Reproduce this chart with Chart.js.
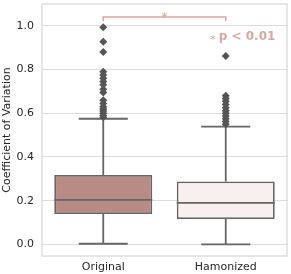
<!DOCTYPE html>
<html>
<head>
<meta charset="utf-8">
<script src="https://cdn.jsdelivr.net/npm/chart.js@4.4.1/dist/chart.umd.min.js"></script>
<style>
  html, body { margin: 0; padding: 0; background: #fff; }
  #wrap { width: 291px; height: 274px; }
</style>
</head>
<body>
<div id="wrap"><canvas id="cv"></canvas></div>
<script>
var groups      = ['Original', 'Hamonized'];
var whiskerLow  = [0.003, 0.0];
var q1          = [0.139, 0.116];
var median      = [0.204, 0.190];
var q3          = [0.318, 0.288];
var whiskerHigh = [0.575, 0.539];
var outliersOriginal  = [0.994, 0.927, 0.880, 0.790, 0.775, 0.760, 0.745, 0.730, 0.710, 0.695,
                         0.660, 0.645, 0.630, 0.620, 0.610, 0.600, 0.590, 0.582];
var outliersHamonized = [0.862, 0.680, 0.668, 0.655, 0.640, 0.625, 0.612, 0.600, 0.588, 0.575, 0.562, 0.550];
var boxColors   = ['#b98b85', '#f9efee'];
var yTicks      = [0.0, 0.2, 0.4, 0.6, 0.8, 1.0];
var bracketY    = 1.041;
var bracketDrop = 1.021;
var starY       = 1.047;
var sigY        = 0.948;
var sigLabel    = 'p < 0.01';

var LINE = '#666666';
var SIG  = '#dba69e';

function pts(name, arr) {
  return arr.map(function (v) { return { x: name, y: v }; });
}

// whiskers, caps, medians, frame and significance bracket
var boxParts = {
  id: 'boxParts',
  beforeDatasetsDraw: function (chart) {
    var a = chart.chartArea, ctx = chart.ctx;
    ctx.save();
    ctx.strokeStyle = '#d6d6d6';
    ctx.lineWidth = 1.2;
    ctx.strokeRect(a.left, a.top, a.right - a.left, a.bottom - a.top);
    ctx.restore();
  },
  afterDatasetDraw: function (chart, args) {
    if (args.meta.type !== 'bar') return;
    var ctx = chart.ctx, ys = chart.scales.y;
    ctx.save();
    ctx.strokeStyle = LINE;
    ctx.lineWidth = 1.8;
    args.meta.data.forEach(function (bar, i) {
      var cx = bar.x, half = bar.width / 2, cap = half / 2;
      var yHi = ys.getPixelForValue(whiskerHigh[i]);
      var yLo = ys.getPixelForValue(whiskerLow[i]);
      var yQ3 = ys.getPixelForValue(q3[i]);
      var yQ1 = ys.getPixelForValue(q1[i]);
      var yMd = ys.getPixelForValue(median[i]);
      ctx.beginPath();
      ctx.moveTo(cx, yQ3); ctx.lineTo(cx, yHi);
      ctx.moveTo(cx, yQ1); ctx.lineTo(cx, yLo);
      ctx.moveTo(cx - cap, yHi); ctx.lineTo(cx + cap, yHi);
      ctx.moveTo(cx - cap, yLo); ctx.lineTo(cx + cap, yLo);
      ctx.moveTo(cx - half, yMd); ctx.lineTo(cx + half, yMd);
      ctx.stroke();
    });
    ctx.restore();
  },
  afterDraw: function (chart) {
    var ctx = chart.ctx, xs = chart.scales.x, ys = chart.scales.y;
    var x0 = xs.getPixelForValue(0), x1 = xs.getPixelForValue(1);
    var yb = ys.getPixelForValue(bracketY), yd = ys.getPixelForValue(bracketDrop);
    ctx.save();
    ctx.strokeStyle = SIG;
    ctx.lineWidth = 1.5;
    ctx.beginPath();
    ctx.moveTo(x0, yd); ctx.lineTo(x0, yb); ctx.lineTo(x1, yb); ctx.lineTo(x1, yd);
    ctx.stroke();
    ctx.fillStyle = SIG;
    ctx.textAlign = 'center';
    ctx.textBaseline = 'middle';
    ctx.font = '13px "DejaVu Sans"';
    ctx.fillText('*', (x0 + x1) / 2, ys.getPixelForValue(starY) + 2);
    var ty = ys.getPixelForValue(sigY);
    ctx.font = 'bold 12px "DejaVu Sans"';
    ctx.textAlign = 'left';
    ctx.fillText(sigLabel, x1 - 7, ty);
    ctx.font = '11px "DejaVu Sans"';
    ctx.textAlign = 'right';
    ctx.fillText('*', x1 - 10, ty + 3);
    ctx.restore();
  }
};

Chart.defaults.font.family = '"DejaVu Sans", sans-serif';
Chart.defaults.font.size = 11;
Chart.defaults.color = '#262626';

new Chart(document.getElementById('cv'), {
  type: 'bar',
  data: {
    labels: groups,
    datasets: [
      {
        type: 'line', label: 'Original outliers', data: pts('Original', outliersOriginal),
        showLine: false, pointStyle: 'rectRot', pointRadius: 4,
        pointBackgroundColor: '#555', pointBorderColor: '#555', pointBorderWidth: 0, order: 1
      },
      {
        type: 'line', label: 'Hamonized outliers', data: pts('Hamonized', outliersHamonized),
        showLine: false, pointStyle: 'rectRot', pointRadius: 4,
        pointBackgroundColor: '#555', pointBorderColor: '#555', pointBorderWidth: 0, order: 1
      },
      {
        label: 'IQR',
        data: groups.map(function (g, i) { return [q1[i], q3[i]]; }),
        backgroundColor: boxColors, borderColor: LINE, borderWidth: 1.8, borderSkipped: false,
        barPercentage: 0.8, categoryPercentage: 1.0, order: 2
      }
    ]
  },
  options: {
    responsive: true, maintainAspectRatio: false, animation: false,
    layout: { padding: { top: 3, right: 3, left: 0, bottom: 0 } },
    plugins: { legend: { display: false }, tooltip: { enabled: false } },
    scales: {
      x: {
        grid: { display: false, drawTicks: false }, border: { display: false },
        ticks: { padding: 5, color: '#262626' },
        afterFit: function (s) { s.height = 18; }
      },
      y: {
        min: -0.053, max: 1.1,
        afterBuildTicks: function (s) { s.ticks = yTicks.map(function (v) { return { value: v }; }); },
        ticks: { padding: 8, callback: function (v) { return v.toFixed(1); } },
        grid: { color: '#dcdcdc', lineWidth: 1, drawTicks: false },
        border: { display: false },
        title: { display: true, text: 'Coefficient of Variation', padding: { top: 1, bottom: 2 } },
        afterFit: function (s) { s.width = 42; s.paddingTop = 0; s.paddingBottom = 0; }
      }
    }
  },
  plugins: [boxParts]
});
</script>
</body>
</html>
